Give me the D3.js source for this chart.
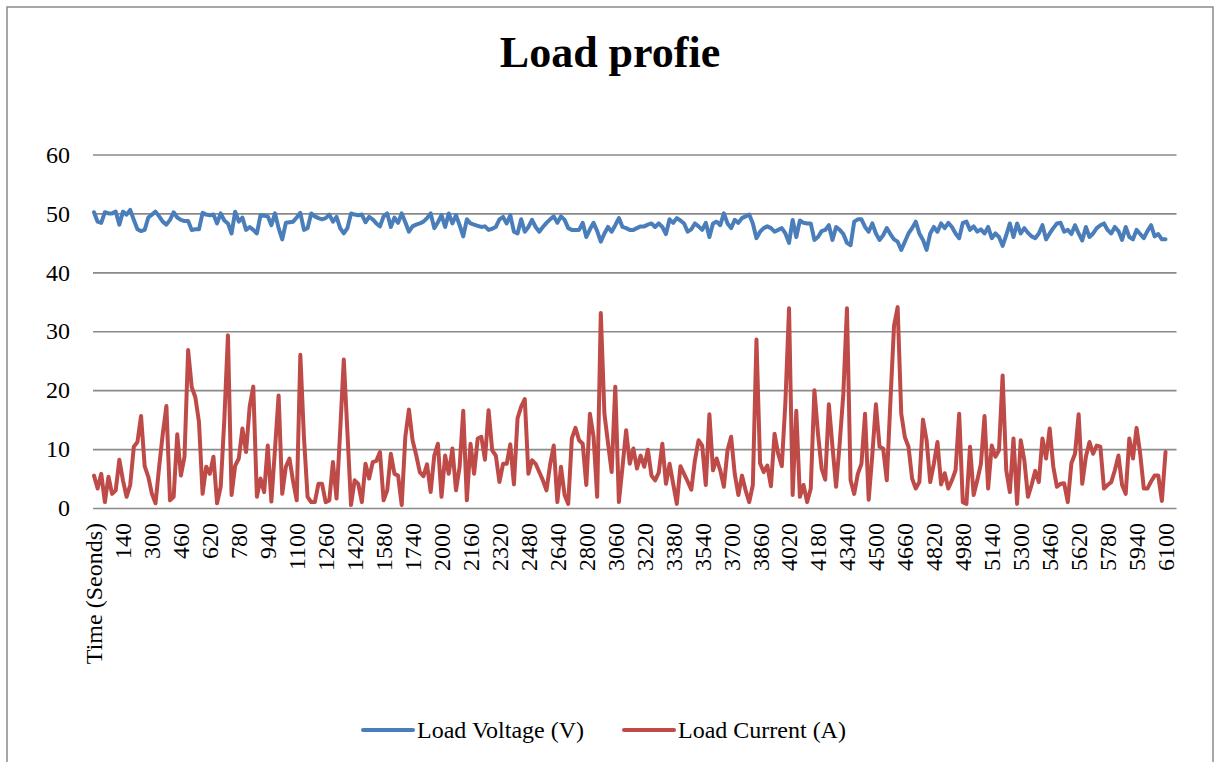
<!DOCTYPE html>
<html>
<head>
<meta charset="utf-8">
<script src="https://cdnjs.cloudflare.com/ajax/libs/d3/7.8.5/d3.min.js"></script>
<style>
  body { margin: 0; background: #fff; }
  svg { display: block; font-family: "Liberation Serif", "Times New Roman", serif; }
</style>
</head>
<body>
<script>
let x = 1214;
let y = 762;

// x axis labels, one every 8 samples (first row is the header text)
let tickLabels = ["Time (Seonds)", "140", "300", "460", "620", "780", "940", "1100", "1260", "1420",
  "1580", "1740", "2000", "2160", "2320", "2480", "2640", "2800", "3060", "3220", "3380", "3540",
  "3700", "3860", "4020", "4180", "4340", "4500", "4660", "4820", "4980", "5140", "5300", "5460",
  "5620", "5780", "5940", "6100"];
let labelEvery = 8;

let voltage = [
  50.2, 48.6, 48.4, 50.2, 50.0, 50.0, 50.3, 48.1, 50.3, 49.8,
  50.6, 48.9, 47.3, 47.0, 47.2, 49.3, 49.8, 50.3, 49.5, 48.6,
  48.1, 48.9, 50.2, 49.3, 48.9, 48.7, 48.7, 47.2, 47.3, 47.3,
  50.1, 49.8, 49.7, 49.8, 48.3, 50.0, 48.8, 48.3, 46.6, 50.3,
  48.6, 49.3, 47.2, 47.7, 47.2, 46.6, 49.7, 49.6, 49.5, 48.0,
  50.0, 47.5, 45.6, 48.4, 48.5, 48.6, 49.3, 50.1, 47.2, 47.5,
  50.0, 49.5, 49.2, 49.0, 49.2, 49.8, 48.6, 49.4, 47.5, 46.6,
  47.5, 50.0, 49.8, 49.7, 49.8, 48.5, 49.4, 49.0, 48.3, 47.8,
  49.5, 50.0, 47.7, 49.3, 48.4, 50.0, 48.5, 46.9, 47.8, 48.1,
  48.3, 48.6, 49.2, 50.0, 47.5, 48.5, 49.7, 47.7, 50.0, 48.3,
  49.7, 48.0, 46.1, 49.0, 48.3, 48.1, 47.9, 47.7, 47.8, 47.2,
  47.4, 47.7, 49.0, 49.4, 48.3, 49.7, 46.9, 46.6, 49.0, 46.9,
  47.7, 48.9, 47.7, 46.9, 47.7, 48.4, 49.0, 49.5, 48.4, 49.5,
  48.9, 47.5, 47.2, 47.2, 47.2, 48.4, 46.0, 47.3, 48.4, 47.0,
  45.2, 46.6, 47.7, 46.9, 48.0, 49.2, 47.7, 47.5, 47.2, 47.2,
  47.5, 47.8, 47.8, 48.1, 48.3, 47.7, 48.3, 47.7, 46.5, 49.0,
  48.4, 49.2, 48.8, 48.3, 46.9, 47.3, 48.3, 47.8, 47.2, 48.4,
  46.0, 48.3, 48.6, 48.0, 50.0, 48.3, 47.5, 48.9, 48.4, 49.2,
  49.5, 49.8, 48.3, 45.8, 46.9, 47.5, 47.8, 47.5, 46.9, 47.2,
  47.5, 46.6, 45.0, 48.9, 46.0, 48.8, 48.4, 48.3, 48.3, 45.5,
  46.0, 47.0, 47.2, 48.0, 45.5, 47.7, 47.2, 46.5, 45.0, 44.6,
  48.6, 49.0, 49.0, 47.7, 46.9, 48.3, 46.6, 45.5, 46.3, 47.5,
  46.5, 45.6, 45.2, 43.8, 45.2, 46.6, 47.5, 48.6, 46.6, 45.5,
  43.8, 46.6, 47.7, 46.9, 48.3, 47.5, 48.4, 47.7, 46.6, 45.8,
  48.4, 48.6, 47.2, 47.8, 46.9, 47.3, 46.6, 47.7, 45.8, 46.6,
  46.0, 44.5, 46.3, 48.3, 46.0, 48.3, 46.6, 47.5, 46.7, 46.1,
  45.8, 46.6, 48.0, 45.6, 46.6, 47.5, 48.3, 48.4, 46.9, 47.2,
  46.5, 48.0, 46.6, 45.4, 47.7, 46.0, 46.6, 47.5, 48.0, 48.3,
  47.2, 46.6, 47.7, 47.0, 45.5, 47.7, 46.0, 45.6, 47.2, 46.5,
  45.8, 47.0, 48.0, 46.1, 46.5, 45.6, 45.6
];

let current = [
  5.5, 3.3, 5.8, 1.0, 5.3, 2.4, 3.0, 8.2, 4.7, 1.9,
  3.9, 10.4, 11.2, 15.6, 7.1, 5.3, 2.4, 0.8, 7.0, 12.6,
  17.3, 1.3, 1.9, 12.5, 5.5, 8.7, 26.8, 20.5, 18.8, 14.6,
  2.4, 7.0, 5.8, 8.7, 0.8, 3.6, 15.0, 29.3, 2.2, 7.2,
  8.4, 13.5, 9.5, 17.2, 20.6, 1.9, 5.0, 2.7, 10.6, 1.1,
  10.0, 19.1, 2.4, 7.0, 8.4, 4.5, 1.3, 26.0, 12.0, 1.9,
  1.0, 1.0, 4.1, 4.1, 1.0, 1.3, 7.8, 1.6, 13.0, 25.2,
  12.9, 0.5, 4.7, 4.1, 1.0, 7.5, 5.0, 7.8, 8.0, 9.5,
  1.3, 3.0, 9.2, 5.8, 5.5, 0.5, 12.1, 16.7, 11.5, 9.0,
  6.1, 5.4, 7.4, 2.7, 8.9, 10.9, 1.9, 8.9, 5.8, 10.1,
  3.0, 7.0, 16.5, 1.3, 10.9, 5.8, 11.8, 12.1, 8.2, 16.6,
  9.8, 8.9, 4.4, 7.5, 7.5, 10.8, 4.0, 15.2, 17.2, 18.5,
  5.8, 8.1, 7.5, 6.1, 4.7, 3.0, 7.4, 10.6, 1.0, 7.0,
  2.2, 0.7, 11.8, 13.6, 11.5, 10.9, 3.9, 16.0, 12.1, 1.9,
  33.1, 16.0, 11.0, 6.1, 20.6, 1.0, 7.0, 13.2, 7.5, 10.1,
  6.7, 8.9, 7.0, 9.9, 5.5, 4.7, 6.0, 10.9, 4.1, 7.5,
  4.1, 0.7, 7.1, 5.8, 4.5, 3.1, 8.1, 11.5, 10.6, 3.9,
  15.9, 6.4, 8.4, 6.4, 3.6, 9.8, 12.1, 5.8, 2.2, 5.5,
  3.0, 1.0, 3.9, 28.6, 7.6, 6.1, 7.2, 3.7, 12.6, 9.2,
  7.1, 18.0, 33.9, 2.2, 16.5, 1.9, 3.9, 1.0, 3.3, 20.0,
  12.6, 6.7, 4.8, 17.6, 10.4, 3.6, 11.0, 19.4, 33.9, 4.7,
  2.4, 5.8, 7.5, 16.0, 1.4, 9.0, 17.6, 10.4, 10.1, 4.7,
  18.0, 30.9, 34.1, 16.0, 12.0, 10.4, 5.0, 3.3, 4.4, 15.0,
  11.5, 4.4, 7.5, 11.2, 4.0, 5.9, 3.3, 4.7, 6.4, 16.0,
  1.0, 0.7, 10.4, 2.2, 4.7, 7.5, 15.6, 3.3, 10.6, 8.7,
  9.8, 22.5, 6.4, 2.7, 11.8, 0.7, 11.5, 8.1, 1.9, 3.9,
  6.3, 4.4, 11.8, 8.4, 13.5, 7.0, 3.6, 4.1, 4.2, 1.0,
  7.6, 9.2, 15.9, 4.1, 8.7, 11.2, 9.2, 10.6, 10.4, 3.3,
  3.9, 4.4, 6.4, 8.9, 3.9, 2.4, 11.8, 8.4, 13.6, 9.2,
  3.3, 3.3, 4.5, 5.5, 5.5, 1.2, 9.5
];

let seriesNames = ["Load Voltage (V)", "Load Current (A)"];
let colors = ["#4a7ebb", "#be4b48"];
let yTicks = [0, 10, 20, 30, 40, 50, 60];

let pad = { top: 154.5, rig: 1176.5, bot: 508, lef: 93 };

let svg = d3.select("body")
  .append("svg")
  .attr("width", x)
  .attr("height", y)
  .attr("viewBox", "0, 0, " + x + ", " + y);

// outer chart frame (runs off the bottom of the picture)
svg.append("rect")
  .attr("x", 7)
  .attr("y", 7)
  .attr("width", 1206)
  .attr("height", 820)
  .attr("fill", "none")
  .attr("stroke", "#8a8a8a")
  .attr("stroke-width", 1.5);

svg.append("text")
  .text("Load profie")
  .attr("x", 610)
  .attr("y", 67)
  .attr("text-anchor", "middle")
  .attr("font-size", "44px")
  .attr("font-weight", "bold");

// 300 category slots, first one sits on the left edge
let nCats = 300;
let xScale = d3.scaleLinear()
  .domain([0, nCats - 1])
  .range([94, 94 + (nCats - 1) * 3.62]);

let yScale = d3.scaleLinear()
  .domain([0, 60])
  .range([pad.bot, pad.top]);

// gridlines + y labels
let yAxis = svg.append("g")
  .attr("transform", "translate(" + pad.lef + ", 0)")
  .call(d3.axisLeft(yScale).tickValues(yTicks).tickSize(-(pad.rig - pad.lef)).tickPadding(23));
yAxis.select(".domain").remove();
yAxis.selectAll(".tick line")
  .attr("stroke", "#8a8a8a")
  .attr("stroke-width", 1.6);
yAxis.selectAll(".tick text")
  .attr("font-size", "24px")
  .attr("font-family", "Liberation Serif, Times New Roman, serif")
  .attr("fill", "#000");

// x labels, rotated
let labelIdx = tickLabels.map((d, i) => i * labelEvery);
let xAxis = svg.append("g")
  .attr("transform", "translate(0, " + pad.bot + ")")
  .call(d3.axisBottom(xScale).tickValues(labelIdx).tickFormat((d, i) => tickLabels[i]).tickSize(0));
xAxis.select(".domain").remove();
xAxis.selectAll(".tick text")
  .attr("font-size", "24px")
  .attr("font-family", "Liberation Serif, Times New Roman, serif")
  .attr("fill", "#000")
  .attr("text-anchor", "end")
  .attr("transform", "translate(0, 15) rotate(-90)")
  .attr("x", 0)
  .attr("y", 0)
  .attr("dy", "0.33em");

let line = d3.line()
  .x((d, i) => xScale(i))
  .y(d => yScale(d));

[voltage, current].forEach((s, i) => {
  svg.append("path")
    .datum(s)
    .attr("fill", "none")
    .attr("stroke", colors[i])
    .attr("stroke-width", 4)
    .attr("stroke-linejoin", "round")
    .attr("stroke-linecap", "round")
    .attr("d", line);
});

// legend
let legendX = [363, 624];
seriesNames.forEach((name, i) => {
  let g = svg.append("g").attr("transform", "translate(" + legendX[i] + ", 730)");
  g.append("line")
    .attr("x1", 0).attr("x2", 50)
    .attr("y1", 0).attr("y2", 0)
    .attr("stroke", colors[i])
    .attr("stroke-width", 4)
    .attr("stroke-linecap", "round");
  g.append("text")
    .text(name)
    .attr("x", 54)
    .attr("y", 7.5)
    .attr("font-size", "24px");
});
</script>
</body>
</html>
